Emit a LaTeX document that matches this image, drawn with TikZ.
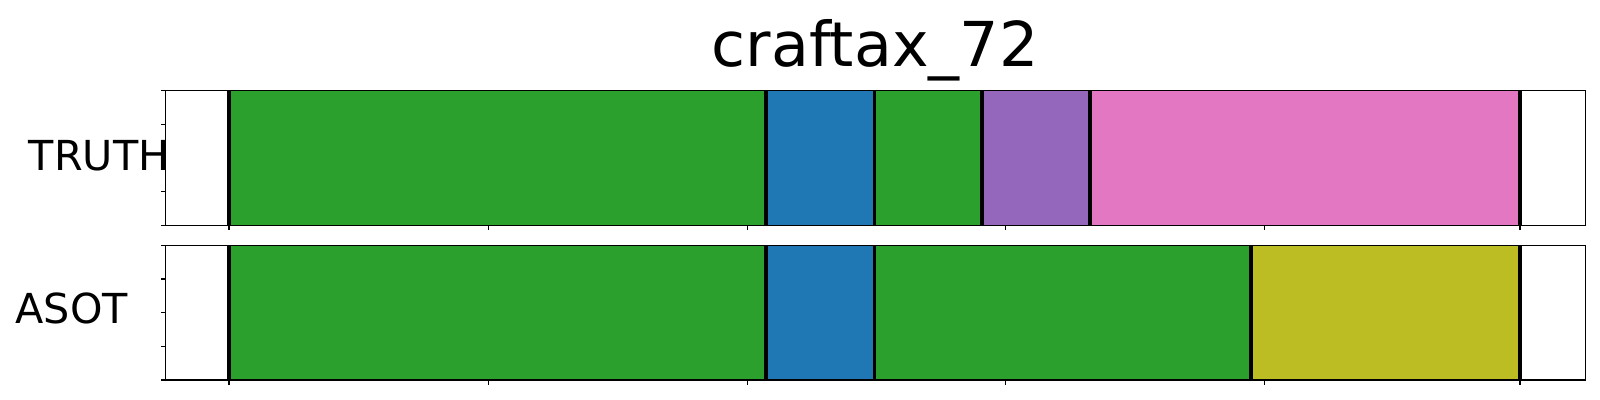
\documentclass[tikz,border=0pt]{standalone}
\usepackage{xcolor}
\usepackage{fontspec}
\setmainfont{DejaVu Sans}
\usepackage{tikz}
\usetikzlibrary{positioning}
\definecolor{tabgreen}{HTML}{2CA02C}
\definecolor{tabblue}{HTML}{1F77B4}
\definecolor{tabpurple}{HTML}{9467BD}
\definecolor{tabpink}{HTML}{E377C2}
\definecolor{tabolive}{HTML}{BCBD22}
\tikzstyle{frame} = [draw=black, line width=0.38pt]
\tikzstyle{bound} = [draw=black, line width=1.05pt]
\tikzstyle{tick} = [draw=black, line width=0.3pt]
\tikzstyle{lbl} = [inner sep=0pt, font=\fontsize{11.75}{14}\selectfont]

\begin{document}
\begin{tikzpicture}[x=0.01cm, y=-0.01cm]
  \useasboundingbox (0,0) rectangle (1600,400);

  % Title
  \node (title) [inner sep=0pt, anchor=base, font=\fontsize{17.6}{20}\selectfont] at (875,66) {craftax\_72};

  % Row labels
  \node (truth) [lbl, anchor=base east] at (170,170) {TRUTH};
  \node (asot) [lbl, anchor=base west] at (15,323) {ASOT};

  % Top panel segments
  \fill[tabgreen] (229,90.3) rectangle (766,225.3);
  \fill[tabblue] (766,90.3) rectangle (874.5,225.3);
  \fill[tabgreen] (874.5,90.3) rectangle (982,225.3);
  \fill[tabpurple] (982,90.3) rectangle (1090,225.3);
  \fill[tabpink] (1090,90.3) rectangle (1520,225.3);

  % Bottom panel segments
  \fill[tabgreen] (229,245.3) rectangle (766,380);
  \fill[tabblue] (766,245.3) rectangle (874.5,380);
  \fill[tabgreen] (874.5,245.3) rectangle (1251,380);
  \fill[tabolive] (1251,245.3) rectangle (1520,380);

  % Boundaries
  \foreach \bx in {229,766,874.5,982,1090,1520}
    \draw[bound] (\bx,90.3) -- (\bx,225.3);
  \foreach \bx in {229,766,874.5,1251,1520}
    \draw[bound] (\bx,245.3) -- (\bx,380);

  % Frames
  \draw[frame] (165.3,90.3) rectangle (1585.3,225.3);
  \draw[frame] (165.3,245.3) rectangle (1585.3,380);

  % Ticks
  \foreach \tx in {229,488.6,747.2,1005.8,1264.4,1520} {
    \draw[tick] (\tx,225.3) -- (\tx,229.8);
    \draw[tick] (\tx,380) -- (\tx,384.5);
  }
  \foreach \k in {0,...,4} {
    \draw[tick] (165.3,90.3+33.75*\k) -- (160.8,90.3+33.75*\k);
    \draw[tick] (165.3,245.3+33.675*\k) -- (160.8,245.3+33.675*\k);
  }

\end{tikzpicture}
\end{document}
